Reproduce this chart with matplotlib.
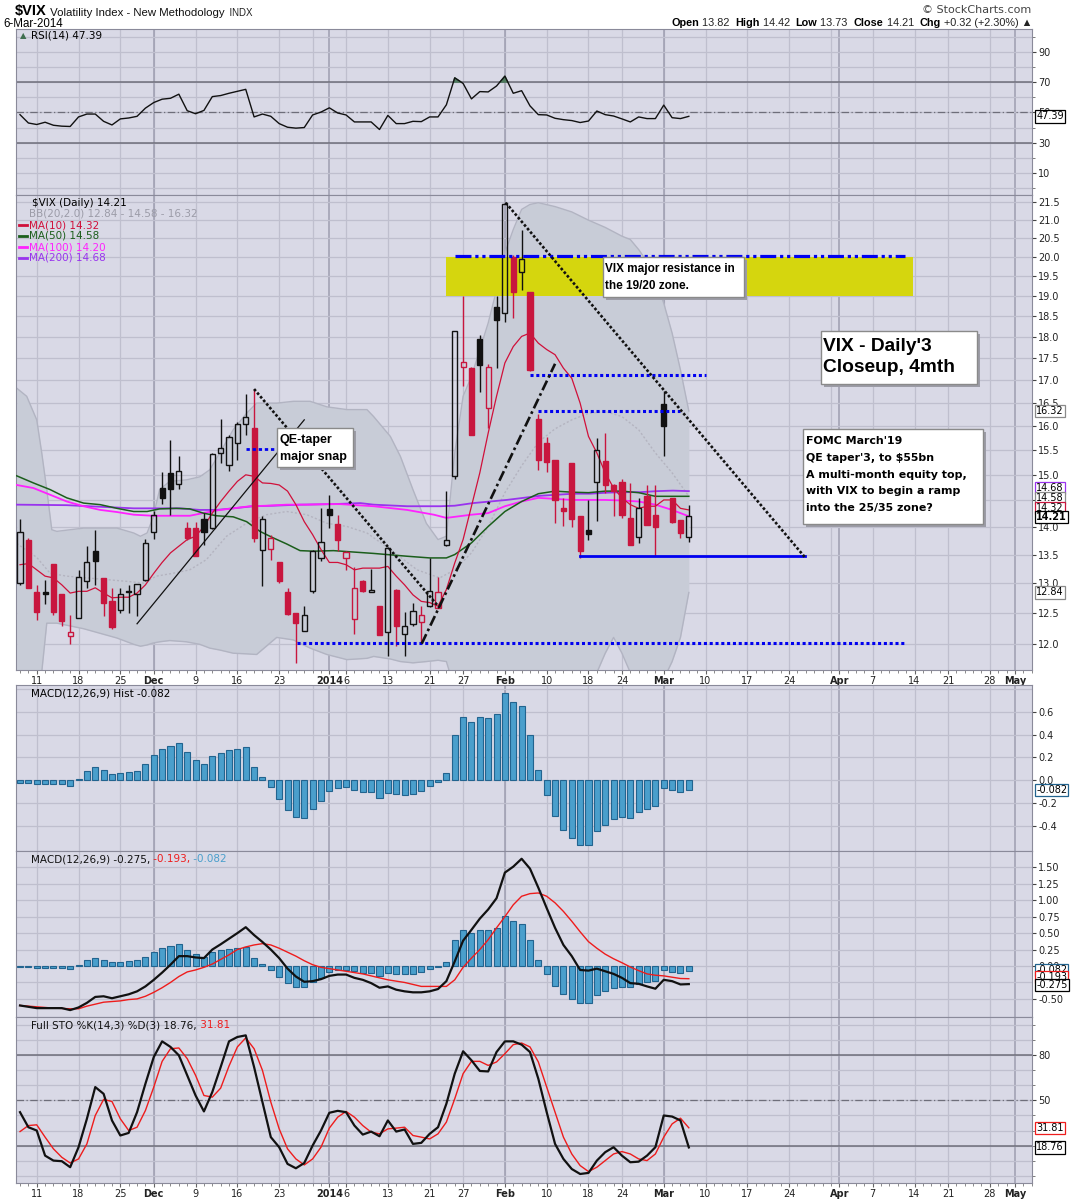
import numpy as np
import matplotlib.pyplot as plt
from matplotlib.patches import Rectangle
from matplotlib.lines import Line2D
from matplotlib.ticker import FixedLocator, NullLocator, FormatStrFormatter, FuncFormatter
import matplotlib.transforms as mtransforms

# ---- daily candles, 7-Nov-2013 .. 6-Mar-2014 (trading day index = position) ----
opens = [13.00, 13.77, 12.85, 12.84, 13.33, 12.81, 12.13, 12.42, 13.03, 13.56,
         13.08, 12.70, 12.54, 12.86, 12.82, 13.05, 13.91, 14.75, 15.04, 14.82,
         13.98, 13.98, 14.15, 13.98, 15.44, 15.20, 15.64, 16.04, 15.96, 13.58,
         13.60, 13.36, 12.85, 12.49, 12.20, 12.86, 13.44, 14.33, 14.06, 13.44,
         12.39, 13.04, 12.85, 12.61, 12.19, 12.89, 12.16, 12.31, 12.35, 12.62,
         12.58, 13.68, 14.97, 17.29, 17.27, 17.94, 16.38, 18.72, 18.57, 20.00,
         19.60, 19.11, 16.15, 15.65, 15.30, 14.35, 15.23, 14.21, 13.94, 14.85,
         15.27, 14.80, 14.85, 14.17, 13.82, 14.59, 14.23, 16.48, 14.55, 14.13, 13.82]
highs = [14.15, 13.80, 12.96, 13.05, 13.34, 12.81, 12.46, 13.22, 13.66, 13.95,
         13.08, 12.91, 12.91, 12.96, 12.99, 13.78, 14.30, 15.05, 15.70, 15.38,
         14.09, 14.09, 14.27, 15.44, 16.15, 15.81, 16.08, 16.68, 16.80, 14.20,
         13.86, 13.37, 12.92, 12.50, 12.61, 13.59, 14.35, 14.60, 14.23, 13.57,
         13.28, 13.06, 13.25, 12.61, 13.64, 12.90, 12.52, 12.66, 12.61, 13.43,
         13.11, 14.68, 18.14, 19.00, 17.30, 18.04, 17.37, 19.00, 21.50, 20.06,
         20.74, 19.11, 16.26, 15.77, 15.30, 14.55, 15.23, 14.21, 14.50, 15.74,
         15.85, 14.82, 14.92, 14.83, 14.55, 14.80, 14.80, 16.75, 14.55, 14.13, 14.42]
lows = [12.96, 12.91, 12.38, 12.65, 12.47, 12.29, 12.00, 12.42, 12.92, 12.97,
        12.45, 12.23, 12.50, 12.49, 12.45, 13.04, 13.78, 14.43, 14.23, 14.72,
        13.77, 13.47, 13.67, 13.97, 15.23, 15.08, 15.30, 15.80, 13.73, 12.95,
        13.40, 13.01, 12.47, 11.70, 12.20, 12.83, 13.38, 13.98, 13.56, 13.23,
        12.15, 12.84, 12.85, 12.14, 11.80, 11.97, 11.80, 12.29, 12.01, 12.60,
        12.58, 13.66, 14.92, 16.86, 15.80, 16.73, 15.96, 17.27, 18.35, 18.45,
        19.15, 17.20, 15.10, 15.06, 14.07, 14.01, 14.00, 13.44, 13.77, 14.12,
        14.65, 14.20, 14.16, 13.67, 13.70, 14.04, 13.47, 15.37, 14.07, 13.80, 13.73]
closes = [13.91, 12.92, 12.52, 12.82, 12.51, 12.36, 12.19, 13.10, 13.37, 13.39,
          12.66, 12.26, 12.81, 12.84, 12.98, 13.70, 14.22, 14.55, 14.72, 15.07,
          13.79, 13.48, 13.91, 15.42, 15.55, 15.76, 16.04, 16.20, 13.79, 14.14,
          13.79, 13.03, 12.48, 12.34, 12.46, 13.56, 13.72, 14.23, 13.76, 13.55,
          12.92, 12.86, 12.89, 12.14, 13.61, 12.28, 12.29, 12.53, 12.46, 12.86,
          12.84, 13.77, 18.14, 17.42, 15.81, 17.35, 17.29, 18.41, 21.44, 19.11,
          19.95, 17.23, 15.29, 15.26, 14.51, 14.30, 14.14, 13.57, 13.87, 15.50,
          14.79, 14.68, 14.23, 13.67, 14.35, 14.04, 14.00, 15.99, 14.10, 13.89, 14.21]

ma10 = [13.32, 13.34, 13.23, 13.12, 13.09, 12.97, 12.83, 12.86, 12.86, 12.92,
        12.83, 12.75, 12.76, 12.76, 12.83, 12.97, 13.17, 13.36, 13.53, 13.65,
        13.77, 13.83, 14.01, 14.26, 14.48, 14.68, 14.87, 15.00, 14.97, 14.84,
        14.83, 14.80, 14.68, 14.42, 14.10, 13.86, 13.59, 13.36, 13.36, 13.32,
        13.23, 13.26, 13.26, 13.26, 13.29, 13.12, 12.97, 12.80, 12.69, 12.67,
        12.61, 12.89, 13.35, 13.77, 14.39, 15.04, 15.85, 16.64, 17.39, 17.77,
        18.01, 18.09, 17.85, 17.70, 17.58, 17.27, 17.04, 16.49, 15.78, 15.44,
        15.04, 14.74, 14.55, 14.42, 14.35, 14.39, 14.39, 14.51, 14.51, 14.35, 14.32]

ma50_days = [-0.4, 1.6, 3.6, 5.6, 7.6, 9.6, 11.6, 13.6, 15.2, 16.7, 18.7, 20.3, 21.9, 23.5,
             25.5, 27.1, 28.7, 30.3, 31.9, 33.5, 35.1, 37.5, 42.3, 46.3, 49, 51, 52, 54,
             56, 58, 60, 62, 64, 66, 68, 70, 72, 74, 76, 78, 80]
ma50 = [14.98, 14.84, 14.71, 14.55, 14.45, 14.42, 14.35, 14.29, 14.29, 14.34, 14.35, 14.34,
        14.26, 14.21, 14.19, 14.10, 13.92, 13.80, 13.69, 13.57, 13.56, 13.57, 13.52, 13.47,
        13.44, 13.44, 13.50, 13.71, 14.01, 14.29, 14.48, 14.63, 14.68, 14.66, 14.65, 14.68,
        14.68, 14.65, 14.58, 14.58, 14.58]

ma100_days = [-0.4, 1.6, 3.6, 5.6, 7.6, 9.6, 11.6, 13.6, 15.9, 18.3, 20.3, 21.9, 23.5, 25.5,
              27.5, 29.5, 31.9, 34.3, 36.7, 38.3, 42.3, 46.3, 49.5, 51, 52, 54, 56, 58, 60,
              62, 64, 66, 68, 70, 72, 74, 76, 78, 80]
ma100 = [14.80, 14.74, 14.61, 14.48, 14.39, 14.32, 14.28, 14.23, 14.21, 14.21, 14.21, 14.26,
         14.31, 14.35, 14.39, 14.40, 14.42, 14.42, 14.43, 14.43, 14.39, 14.32, 14.23, 14.17,
         14.19, 14.23, 14.26, 14.39, 14.48, 14.55, 14.53, 14.51, 14.51, 14.51, 14.50, 14.48,
         14.42, 14.32, 14.20]

ma200_days = [-0.4, 5.6, 13.6, 16, 19.1, 21.5, 23.5, 25.5, 27.9, 30.3, 33.5, 37.5, 40.7, 42.3,
              46.3, 50.3, 52, 54.2, 56.2, 58.2, 60.2, 62.2, 64.2, 66.2, 68.2, 70.2, 72.2, 74.2,
              76.2, 78.1, 80]
ma200 = [14.42, 14.41, 14.35, 14.35, 14.35, 14.32, 14.32, 14.35, 14.39, 14.40, 14.42, 14.43,
         14.45, 14.42, 14.39, 14.39, 14.40, 14.45, 14.48, 14.51, 14.55, 14.59, 14.61, 14.63,
         14.63, 14.65, 14.66, 14.66, 14.68, 14.69, 14.68]

bb_days = [-0.4, 0.8, 2.0, 2.6, 3.2, 3.8, 4.4, 7.6, 11.6, 13.6, 14.4, 15.2, 15.9, 16.7, 17.9,
           19.9, 21.5, 22.7, 23.9, 25.5, 27.1, 28.3, 30.7, 32.7, 34.7, 36.7, 39.1, 41.5, 42.3,
           44.3, 45.5, 47.0, 48.6, 50, 51, 52, 53, 54, 55, 56, 57, 58, 59, 60, 61, 62, 64, 66,
           68, 69, 70, 71, 72, 73, 74, 75, 76, 77, 78, 79, 80]
bb_upper = [16.82, 16.64, 16.13, 15.44, 14.71, 13.95, 13.92, 13.98, 13.98, 13.89, 13.83, 13.89,
            14.17, 14.71, 14.87, 14.90, 14.96, 15.10, 15.44, 15.92, 16.27, 16.49, 16.49, 16.53,
            16.53, 16.41, 16.35, 16.35, 16.20, 15.78, 15.37, 14.71, 14.07, 13.77, 13.83, 15.44,
            16.64, 17.08, 17.70, 18.33, 19.15, 20.11, 20.74, 21.30, 21.44, 21.49, 21.38, 21.23,
            21.00, 20.90, 20.80, 20.68, 20.56, 20.47, 20.20, 19.88, 19.41, 18.82, 18.09, 17.23,
            16.32]
bb_lower = [11.30, 11.30, 11.30, 11.56, 12.33, 12.33, 12.33, 12.24, 12.09, 11.99, 11.96, 11.98,
            12.01, 12.03, 12.05, 12.03, 11.99, 11.93, 11.90, 11.85, 11.84, 11.83, 12.10, 12.06,
            11.93, 11.83, 11.75, 11.77, 11.80, 11.76, 11.72, 11.70, 11.72, 11.74, 11.72, 11.30,
            11.00, 10.80, 10.60, 10.50, 10.30, 9.90, 9.70, 9.60, 9.60, 9.70, 9.90, 10.30, 11.20,
            11.55, 11.85, 12.10, 11.85, 11.55, 11.35, 11.25, 11.20, 11.45, 11.72, 12.10, 12.84]
bb_mid_days = [-0.4, 2, 3.6, 5.6, 8, 10.4, 12.8, 14.8, 16.3, 18.3, 20.3, 22.3, 24.7, 27.1, 29.5,
               31.9, 34.3, 36.7, 39.1, 41.5, 44.3, 47.5, 50.2, 52, 54, 56, 58, 60, 62, 64, 66,
               68, 70, 72, 74, 76, 78, 80]
bb_mid = [13.70, 13.45, 13.17, 13.12, 13.09, 13.06, 13.03, 13.00, 13.12, 13.17, 13.23, 13.41,
          13.83, 14.07, 14.23, 14.29, 14.23, 14.07, 14.01, 13.89, 13.59, 13.23, 13.09, 13.23,
          13.53, 14.01, 14.65, 15.18, 15.66, 15.94, 16.13, 16.27, 16.31, 16.20, 15.92, 15.44,
          15.04, 14.58]

rsi = [48.5, 43.0, 42.0, 43.5, 41.5, 40.9, 40.7, 47.0, 48.9, 48.9,
       44.1, 41.7, 45.7, 46.3, 47.4, 52.8, 56.5, 58.7, 59.3, 62.0,
       51.1, 49.1, 51.3, 60.4, 61.1, 62.6, 63.9, 65.2, 47.0, 48.9,
       47.4, 42.6, 40.2, 39.6, 40.0, 48.3, 50.2, 53.0, 49.6, 48.3,
       43.7, 43.7, 43.7, 38.7, 48.0, 42.6, 42.6, 44.1, 43.9, 47.0,
       47.0, 55.0, 72.8, 69.1, 58.9, 63.7, 63.5, 67.4, 73.9, 62.6,
       64.3, 54.3, 48.5, 48.3, 46.1, 45.2, 44.6, 43.3, 44.3, 50.9,
       48.5, 47.6, 45.7, 43.7, 47.0, 45.9, 45.9, 54.8, 46.5, 45.9, 47.39]

macd = [-0.60, -0.62, -0.64, -0.64, -0.64, -0.64, -0.67, -0.63, -0.56, -0.47,
        -0.46, -0.49, -0.46, -0.43, -0.385, -0.31, -0.21, -0.10, 0.02, 0.15,
        0.15, 0.13, 0.12, 0.25, 0.33, 0.415, 0.50, 0.59, 0.47, 0.365,
        0.25, 0.12, -0.04, -0.16, -0.24, -0.23, -0.20, -0.15, -0.13, -0.13,
        -0.18, -0.21, -0.26, -0.33, -0.31, -0.36, -0.385, -0.40, -0.40, -0.385,
        -0.35, -0.23, 0.07, 0.385, 0.55, 0.72, 0.86, 1.03, 1.42, 1.51,
        1.63, 1.48, 1.19, 0.88, 0.58, 0.32, 0.15, -0.06, -0.07, -0.04,
        -0.08, -0.12, -0.18, -0.26, -0.27, -0.31, -0.345, -0.21, -0.23, -0.28, -0.275]
signal = [-0.60, -0.61, -0.62, -0.63, -0.64, -0.645, -0.65, -0.65, -0.61, -0.58,
          -0.55, -0.54, -0.53, -0.51, -0.50, -0.46, -0.40, -0.33, -0.25, -0.16,
          -0.09, -0.06, -0.02, 0.03, 0.10, 0.17, 0.25, 0.29, 0.32, 0.34,
          0.32, 0.27, 0.21, 0.15, 0.08, 0.02, -0.02, -0.04, -0.06, -0.08,
          -0.10, -0.12, -0.15, -0.18, -0.21, -0.23, -0.25, -0.28, -0.31, -0.31,
          -0.31, -0.31, -0.21, -0.02, 0.12, 0.25, 0.40, 0.58, 0.75, 0.93,
          1.06, 1.10, 1.11, 1.06, 0.96, 0.83, 0.68, 0.52, 0.37, 0.27,
          0.18, 0.11, 0.05, -0.015, -0.07, -0.12, -0.14, -0.15, -0.17, -0.19, -0.193]
hist = [-0.02, -0.02, -0.035, -0.03, -0.03, -0.035, -0.05, 0.015, 0.085, 0.12,
        0.09, 0.06, 0.065, 0.075, 0.085, 0.14, 0.22, 0.27, 0.30, 0.33,
        0.25, 0.175, 0.14, 0.21, 0.24, 0.265, 0.275, 0.29, 0.12, 0.03,
        -0.06, -0.16, -0.26, -0.32, -0.325, -0.25, -0.18, -0.09, -0.065, -0.06,
        -0.08, -0.10, -0.10, -0.155, -0.105, -0.12, -0.125, -0.115, -0.09, -0.05,
        -0.01, 0.065, 0.40, 0.55, 0.505, 0.55, 0.54, 0.575, 0.765, 0.68,
        0.645, 0.40, 0.09, -0.125, -0.31, -0.43, -0.50, -0.565, -0.565, -0.44,
        -0.385, -0.335, -0.32, -0.325, -0.275, -0.245, -0.225, -0.065, -0.085, -0.10, -0.082]

sto_k = [42.2, 32.2, 30.0, 13.3, 10.0, 9.6, 5.6, 18.9, 37.8, 58.9,
         54.4, 36.7, 26.7, 28.4, 42.2, 61.1, 78.9, 89.3, 85.6, 80.0,
         66.7, 53.3, 42.7, 55.6, 72.2, 89.3, 92.2, 93.3, 72.2, 48.9,
         25.6, 18.9, 7.8, 4.9, 8.4, 20.0, 30.0, 41.8, 43.1, 42.2,
         33.3, 27.3, 29.3, 26.2, 36.7, 29.3, 30.7, 21.1, 21.8, 27.8,
         32.2, 47.8, 67.8, 82.7, 76.7, 69.6, 69.3, 82.2, 89.3, 89.3,
         87.1, 82.2, 64.4, 42.2, 21.1, 11.1, 4.4, 1.1, 1.8, 10.0,
         15.6, 18.9, 13.3, 8.9, 9.3, 13.3, 18.9, 40.0, 39.3, 36.7, 18.76]
sto_d = [29.3, 33.3, 33.8, 25.6, 17.8, 12.2, 8.4, 11.1, 21.1, 40.0,
         50.7, 49.3, 37.8, 30.0, 32.2, 43.3, 58.9, 76.0, 84.4, 84.9,
         77.8, 66.7, 53.3, 52.2, 58.2, 72.9, 85.6, 91.6, 84.4, 70.0,
         48.9, 31.1, 17.8, 11.1, 7.1, 11.1, 18.9, 31.6, 38.9, 42.7,
         38.9, 33.3, 28.9, 27.8, 31.1, 31.6, 32.2, 26.7, 25.6, 24.4,
         27.8, 35.6, 51.1, 67.8, 76.0, 76.0, 73.3, 75.6, 81.1, 87.1,
         88.2, 85.6, 75.6, 58.9, 42.2, 25.6, 14.4, 6.7, 2.7, 5.6,
         10.0, 14.4, 16.0, 14.4, 11.1, 10.0, 14.4, 25.6, 34.4, 38.2, 31.81]

# date axis (trading day index of each labelled day)
tick_days = [2, 7, 12, 16, 21, 26, 31, 37, 39, 44, 49, 53, 58, 63, 68, 72, 77, 82, 87, 92,
             98, 102, 107, 111, 116, 119]
tick_labels = ['11', '18', '25', 'Dec', '9', '16', '23', '2014', '6', '13', '21', '27', 'Feb',
               '10', '18', '24', 'Mar', '10', '17', '24', 'Apr', '7', '14', '21', '28', 'May']
week_days = [2, 7, 12, 16, 21, 26, 31, 35, 39, 44, 49, 53, 58, 63, 68, 72, 77, 82, 87, 92, 97,
             102, 107, 111, 116]
month_days = [16, 37, 58, 77, 98, 119]
month_names = {'Dec', '2014', 'Feb', 'Mar', 'Apr', 'May'}

# hand-drawn annotation levels
resist_lo, resist_hi = 19.0, 20.0
resist_line = 20.04

W, H = 1075, 1200
BG = '#D9D9E6'
GRID = '#BFBFCE'
MONTH = '#9E9EB0'
SPINE = '#8A8A9A'
RED = '#C8163E'
BLUE = '#0000F0'
XMIN, XMAX = -0.48, 121.05

fig = plt.figure(figsize=(W / 100, H / 100), dpi=100)


def fx(px):
    return px / W


def fy(py):
    return 1 - py / H


def panel(top, bottom):
    return fig.add_axes([fx(16), fy(bottom), fx(1032) - fx(16), (bottom - top) / H])


def style(ax, major, minor=None, fmt=None):
    ax.set_facecolor(BG)
    ax.set_xlim(XMIN, XMAX)
    for d in week_days:
        ax.axvline(d, color=GRID, lw=0.9, zorder=0)
    for d in month_days:
        ax.axvline(d, color=MONTH, lw=1.1, zorder=0)
    ax.yaxis.tick_right()
    ax.yaxis.set_major_locator(FixedLocator(major))
    ax.yaxis.set_minor_locator(FixedLocator(minor) if minor else NullLocator())
    if fmt:
        ax.yaxis.set_major_formatter(FormatStrFormatter(fmt))
    ax.grid(axis='y', which='both', color=GRID, lw=0.9)
    ax.set_axisbelow(True)
    ax.tick_params(axis='y', which='major', labelsize=7, length=3, pad=1.5,
                   colors='#444444', labelcolor='#222222')
    ax.tick_params(axis='y', which='minor', length=2, colors='#666666')
    ax.set_xticks([])
    for s in ax.spines.values():
        s.set_color(SPINE)


def date_axis(ax):
    ax.set_xticks(tick_days)
    ax.set_xticklabels(tick_labels)
    ax.set_xticks(range(0, 122), minor=True)
    ax.tick_params(axis='x', which='major', length=3, labelsize=7, pad=1.5,
                   colors='#666666', labelcolor='#222222')
    ax.tick_params(axis='x', which='minor', length=2, colors='#777777')
    for t in ax.get_xticklabels():
        if t.get_text() in month_names:
            t.set_fontweight('bold')


def tag(ax, y, text, ec, bold=False):
    tr = mtransforms.blended_transform_factory(ax.transAxes, ax.transData)
    ax.text(1.004, y, text, transform=tr, fontsize=7, va='center', ha='left',
            fontweight='bold' if bold else 'normal', clip_on=False, zorder=30,
            bbox=dict(boxstyle='square,pad=0.12', fc='white', ec=ec, lw=0.9))


def chain(ax, x, y, parts, size=7, family='DejaVu Sans'):
    # parts: (text, colour[, weight[, size]])
    def opts(p):
        return dict(color=p[1], family=family,
                    fontweight=p[2] if len(p) > 2 else 'normal',
                    fontsize=p[3] if len(p) > 3 else size)
    prev = ax.text(x, y, parts[0][0], transform=fig.transFigure, va='baseline', ha='left',
                   **opts(parts[0]))
    for p in parts[1:]:
        prev = ax.annotate(p[0], xy=(1, 0), xycoords=prev, va='bottom', ha='left',
                           annotation_clip=False, **opts(p))
    return prev


def note(x0, y0, x1, y1, text, size, family='Liberation Sans', ls=1.2, dx=3, dy=7):
    fig.add_artist(Rectangle((fx(x0 + 3), fy(y1 + 3)), (x1 - x0) / W, (y1 - y0) / H,
                             transform=fig.transFigure, fc='#9C9CA6', ec='none', zorder=20))
    fig.add_artist(Rectangle((fx(x0), fy(y1)), (x1 - x0) / W, (y1 - y0) / H,
                             transform=fig.transFigure, fc='white', ec='#8A8A8A', lw=1, zorder=21))
    fig.text(fx(x0 + dx), fy(y0 + dy), text, ha='left', va='top', fontsize=size,
             fontweight='bold', family=family, linespacing=ls, zorder=22)


days = np.arange(len(closes))

# ---------------- RSI panel ----------------
ax_rsi = panel(29, 195)
style(ax_rsi, [10, 30, 50, 70, 90], minor=[0, 20, 40, 60, 80, 100])
ax_rsi.set_ylim(-4.5, 105)
ax_rsi.axhline(70, color='#6E6E7A', lw=1.1, zorder=1)
ax_rsi.axhline(30, color='#6E6E7A', lw=1.1, zorder=1)
ax_rsi.axhline(50, color='#6E6E7A', lw=0.9, ls=(0, (6, 2, 1, 2)), zorder=1)
rsi_arr = np.array(rsi)
ax_rsi.fill_between(days, rsi_arr, 70, where=rsi_arr > 70, interpolate=True, color='#4E7A5E', zorder=2)
ax_rsi.plot(days, rsi, color='#111111', lw=1.0, zorder=3)
tag(ax_rsi, rsi[-1], '47.39', 'black')
ax_rsi.text(fx(31), fy(36), 'RSI(14) 47.39', transform=fig.transFigure, fontsize=7.5, va='center')
ax_rsi.text(fx(20), fy(36), '\u25b2', transform=fig.transFigure, fontsize=6, va='center', color='#3F6F4F')

# ---------------- header ----------------
chain(ax_rsi, fx(15), fy(15), [('$VIX', 'black', 'bold', 10.5),
                               (' Volatility Index - New Methodology', '#111111', 'normal', 8.2),
                               ('  INDX', '#222222', 'normal', 7)], family='Liberation Sans')
ax_rsi.text(fx(3), fy(24), '6-Mar-2014', transform=fig.transFigure, fontsize=8.3, va='center',
            family='Liberation Sans')
ax_rsi.text(fx(1031), fy(10), '\u00a9 StockCharts.com', transform=fig.transFigure, fontsize=8,
            va='center', ha='right', color='#444444')
chain(ax_rsi, fx(671), fy(26), [('Open', 'black', 'bold'), (' 13.82  ', '#222222'), ('High', 'black', 'bold'),
                                (' 14.42  ', '#222222'), ('Low', 'black', 'bold'), (' 13.73  ', '#222222'),
                                ('Close', 'black', 'bold'), (' 14.21  ', '#222222'), ('Chg', 'black', 'bold'),
                                (' +0.32 (+2.30%) \u25b2', '#222222')], size=7.8, family='Liberation Sans')

# ---------------- price panel ----------------
ax = panel(195, 670)
ax.set_yscale('log')
price_ticks = list(np.arange(12.0, 21.51, 0.5))
style(ax, price_ticks)
ax.yaxis.set_major_formatter(FuncFormatter(lambda v, p: '' if abs(v - 14.5) < 0.01 else '%.1f' % v))
ax.yaxis.set_minor_locator(NullLocator())
ax.set_ylim(11.59, 21.71)
date_axis(ax)

ax.fill_between(bb_days, bb_lower, bb_upper, color='#C8CCD7', lw=0, zorder=1)
ax.plot(bb_days, bb_upper, color='#B2B4C2', lw=1.0, zorder=1.5)
ax.plot(bb_days, bb_lower, color='#B2B4C2', lw=1.0, zorder=1.5)
ax.plot(bb_mid_days, bb_mid, color='#B4B4C0', lw=1.0, ls=(0, (1.5, 1.5)), zorder=1.6)

ax.add_patch(Rectangle((50.96, resist_lo), 55.84, resist_hi - resist_lo, fc='#D5D60E', ec='none', zorder=2))

ax.plot(ma200_days, ma200, color='#9933EE', lw=1.3, zorder=3)
ax.plot(ma100_days, ma100, color='#FF22FF', lw=1.3, zorder=3)
ax.plot(ma50_days, ma50, color='#1B5E1B', lw=1.1, zorder=3)
ax.plot(days, ma10, color='#D0103A', lw=0.9, zorder=3.2)

for i in range(len(closes)):
    o, h, l, c = opens[i], highs[i], lows[i], closes[i]
    prev_c = closes[i - 1] if i > 0 else o
    col = '#111111' if c >= prev_c else RED
    lo, hi = min(o, c), max(o, c)
    if hi - lo < 0.02:
        hi = lo + 0.02
    ax.vlines(i, hi, h, color=col, lw=1.0, zorder=5)
    ax.vlines(i, l, lo, color=col, lw=1.0, zorder=5)
    filled = c < o
    ax.add_patch(Rectangle((i - 0.31, lo), 0.62, hi - lo, fc=col if filled else 'none',
                           ec=col, lw=1.0, zorder=5))

# drawn lines
ax.plot([52.0, 105.9], [resist_line, resist_line], color=BLUE, lw=2.3,
        ls=(0, (5, 1.2, 1, 1.2, 1, 1.2)), zorder=6)
ax.plot([61.0, 82.0], [17.12, 17.12], color=BLUE, lw=2.2, ls=(0, (1, 0.9)), zorder=6)
ax.plot([62.0, 79.0], [16.31, 16.31], color=BLUE, lw=2.2, ls=(0, (1, 0.9)), zorder=6)
ax.plot([33.1, 105.9], [12.01, 12.01], color=BLUE, lw=2.2, ls=(0, (1, 0.9)), zorder=6)
ax.plot([27.0, 30.4], [15.53, 15.53], color=BLUE, lw=2.0, ls=(0, (1.2, 1.0)), zorder=6)
ax.plot([67.0, 93.9], [13.47, 13.47], color=BLUE, lw=2.0, zorder=6)
ax.plot([28.0, 50.2], [16.80, 12.58], color='#111111', lw=1.9, ls=(0, (1, 0.8)), zorder=6)
ax.plot([58.1, 93.9], [21.49, 13.45], color='#111111', lw=1.9, ls=(0, (1, 0.8)), zorder=6)
ax.plot([48.05, 64.0], [12.0, 17.37], color='#111111', lw=1.9, ls=(0, (4, 1.3, 1, 1.3)), zorder=6)
ax.plot([14.0, 34.0], [12.32, 16.13], color='#111111', lw=0.9, zorder=6)

# right axis tags
tag(ax, 16.32, '16.32', '#8A8A8A')
tag(ax, 14.74, '14.68', '#9933EE')
tag(ax, 14.55, '14.58', '#8A8A8A')
tag(ax, 14.36, '14.32', RED)
tag(ax, 14.19, '14.21', 'black', bold=True)
tag(ax, 12.84, '12.84', '#8A8A8A')

# legend of price panel
ax.text(fx(32), fy(203), '$VIX (Daily) 14.21', transform=fig.transFigure, fontsize=7.5, va='center')
ax.text(fx(29), fy(214), 'BB(20,2.0) 12.84 - 14.58 - 16.32', transform=fig.transFigure,
        fontsize=7.5, va='center', color='#9C9CA8')
for k, (txt, col) in enumerate([('MA(10) 14.32', '#D0103A'), ('MA(50) 14.58', '#1B5E1B'),
                                ('MA(100) 14.20', '#FF22FF'), ('MA(200) 14.68', '#9933EE')]):
    yy = 225 + 11 * k
    fig.add_artist(Line2D([fx(19), fx(27)], [fy(yy), fy(yy)], color=col, lw=2))
    ax.text(fx(29), fy(yy), txt, transform=fig.transFigure, fontsize=7.5, va='center', color=col)

# ---------------- MACD histogram ----------------
ax_h = panel(685, 851)
style(ax_h, [-0.4, -0.2, 0.0, 0.2, 0.4, 0.6], minor=[0.8], fmt='%.1f')
ax_h.tick_params(axis='y', which='minor', length=0)
ax_h.set_ylim(-0.614, 0.831)
ax_h.bar(days, hist, width=0.72, color='#4A9FCC', edgecolor='#22648F', lw=0.8, zorder=3)
tag(ax_h, -0.082, '-0.082', '#22648F')
ax_h.text(fx(31), fy(693), 'MACD(12,26,9) Hist -0.082', transform=fig.transFigure, fontsize=7.5, va='center')

# ---------------- MACD lines ----------------
ax_m = panel(851, 1017)
style(ax_m, [-0.5, 0.0, 0.25, 0.5, 0.75, 1.0, 1.25, 1.5], minor=[-0.25], fmt='%.2f')
ax_m.tick_params(axis='y', which='minor', length=0)
ax_m.set_ylim(-0.775, 1.748)
ax_m.bar(days, hist, width=0.72, color='#4A9FCC', edgecolor='#22648F', lw=0.8, zorder=2)
ax_m.plot(days, signal, color='#EE1C1C', lw=1.0, zorder=3)
ax_m.plot(days, macd, color='#111111', lw=1.6, zorder=4)
tag(ax_m, -0.06, '-0.082', '#22648F')
tag(ax_m, -0.17, '-0.193', '#EE1C1C')
tag(ax_m, -0.29, '-0.275', 'black')
chain(ax_m, fx(31), fy(862), [('MACD(12,26,9) -0.275,', '#111111'), (' -0.193,', '#EE1C1C'),
                              (' -0.082', '#4A9FCC')], size=7.5)

# ---------------- Full stochastics ----------------
ax_s = panel(1017, 1183)
style(ax_s, [50, 80], minor=[0, 10, 20, 30, 40, 60, 70, 90, 100])
ax_s.set_ylim(-4.9, 105.5)
date_axis(ax_s)
ax_s.axhline(80, color='#6E6E7A', lw=1.1, zorder=1)
ax_s.axhline(20, color='#6E6E7A', lw=1.1, zorder=1)
ax_s.axhline(50, color='#6E6E7A', lw=0.9, ls=(0, (6, 2, 1, 2)), zorder=1)
ax_s.plot(days, sto_d, color='#EE1C1C', lw=1.0, zorder=3)
ax_s.plot(days, sto_k, color='#111111', lw=1.6, zorder=4)
tag(ax_s, 31.81, '31.81', '#EE1C1C')
tag(ax_s, 18.76, '18.76', 'black')
chain(ax_s, fx(31), fy(1028), [('Full STO %K(14,3) %D(3) 18.76,', '#111111'), (' 31.81', '#EE1C1C')], size=7.5)

# ---------------- text notes ----------------
note(277, 428, 353, 467, 'QE-taper\nmajor snap', 9.0, ls=1.6, dx=3, dy=6)
note(603, 257, 744, 297, 'VIX major resistance in\nthe 19/20 zone.', 8.5, ls=1.55, dx=2, dy=6)
note(821, 331, 977, 384, "VIX - Daily'3\nCloseup, 4mth", 13.8, ls=1.3, dx=2, dy=7)
note(803, 429, 983, 524, "FOMC March'19\nQE taper'3, to $55bn\nA multi-month equity top,\n"
     "with VIX to begin a ramp\ninto the 25/35 zone?", 7.9, family='DejaVu Sans', ls=1.85, dx=3, dy=7)

fig.savefig('out.png', dpi=100, facecolor='white')
